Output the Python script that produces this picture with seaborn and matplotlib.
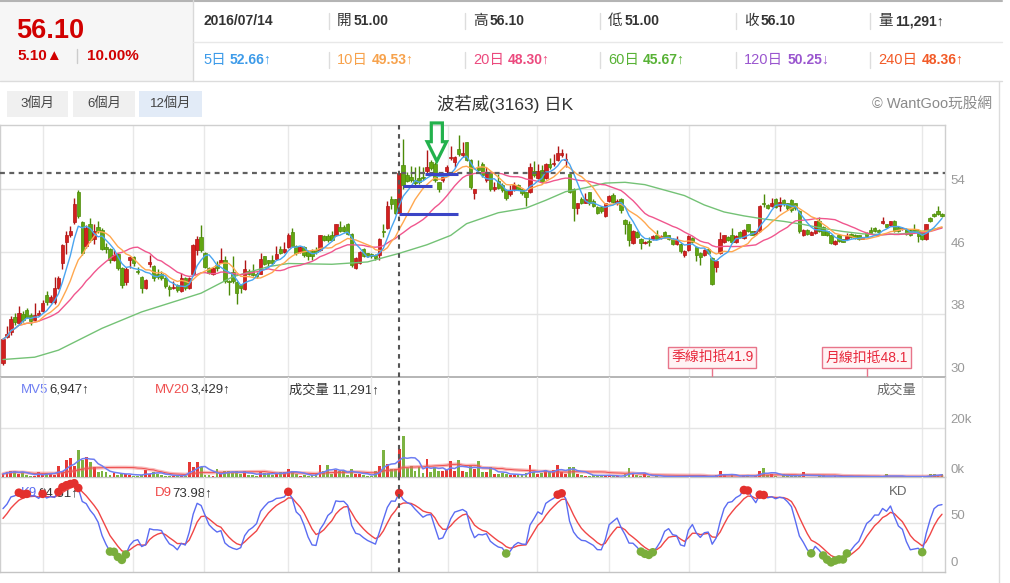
import numpy as np
import pandas as pd
import matplotlib
matplotlib.use('Agg')
import matplotlib.pyplot as plt
import seaborn as sns
from matplotlib.patches import Rectangle, Polygon
import matplotlib.transforms as mtrans

# ------------------------------------------------------------------ data
opens = [
    31.7, 35.1, 35.7, 37.6, 36.9, 38.0, 38.6, 37.9, 37.2, 37.9,
    38.4, 40.5, 39.6, 39.6, 41.4, 44.5, 47.3, 48.1, 49.8, 53.6,
    49.8, 46.8, 49.5, 47.7, 49.2, 48.8, 46.6, 46.3, 45.0, 45.7,
    43.9, 42.1, 44.9, 45.3, 43.6, 42.8, 41.3, 44.4, 44.2, 43.2,
    43.2, 42.7, 41.5, 41.3, 41.7, 41.0, 42.6, 41.3, 43.2, 46.2,
    47.9, 45.8, 43.9, 43.2, 44.3, 44.6, 45.0, 42.3, 43.4, 42.1,
    41.7, 41.2, 43.6, 43.6, 43.2, 43.2, 45.4, 44.9, 44.9, 45.1,
    46.4, 46.0, 46.6, 48.5, 46.8, 46.0, 46.6, 46.0, 46.1,
    46.2, 46.2, 48.0, 48.0, 48.2, 48.1, 49.2, 49.2, 49.5, 48.3,
    43.9, 44.5, 46.4, 45.8, 45.7, 45.6, 45.6, 48.6, 49.0, 52.7, 52.7, 51.0,
    57.1, 55.8, 55.6, 55.2, 55.4, 55.6, 56.3, 57.5, 57.3, 54.9,
    55.2, 56.3, 58.0, 57.5, 59.2, 58.4, 60.0,
    57.8, 53.5, 56.8, 57.3, 55.2, 56.2, 54.0, 55.1, 54.6, 53.9,
    53.4, 54.0, 54.5, 54.0, 53.6, 53.6, 56.3, 55.4, 56.5, 55.4,
    57.3, 57.2, 57.7, 58.4, 57.7, 55.9, 54.0, 51.6, 52.8, 52.3,
    53.6, 52.5, 51.8, 51.8, 50.6, 52.5, 53.3, 52.2, 52.8,
    50.1, 49.5, 47.1, 48.5, 47.7, 47.1, 47.4, 47.6, 48.2, 47.8,
    48.5, 48.1, 47.7, 47.0, 47.0, 45.6, 46.2, 47.8, 46.6, 45.9,
    45.6, 46.3, 45.2, 44.0, 45.8, 47.3, 47.9, 48.2, 47.2, 48.5,
    47.8, 49.5, 48.6, 48.3, 48.6, 52.2, 52.0, 51.9,
    52.7, 51.9, 52.6, 52.2, 52.6, 52.2, 51.2, 48.1, 48.8, 48.2,
    48.4, 49.9, 49.2, 48.6, 48.1, 47.0, 48.1, 47.6, 47.7, 48.3,
    48.2, 48.1, 47.7, 48.4, 48.8, 49.1, 48.8, 49.7, 49.5, 49.4,
    50.0, 49.2, 48.9, 48.9, 48.8, 48.9, 48.8, 48.6, 47.6, 50.3,
    50.8, 51.2, 50.9,
]
highs = [
    34.9, 36.5, 37.8, 38.2, 39.0, 38.4, 38.8, 38.1, 39.5, 38.6,
    39.8, 41.0, 40.5, 42.8, 42.9, 47.0, 48.7, 49.3, 52.9, 53.9,
    50.0, 49.4, 50.3, 49.5, 49.9, 49.0, 47.1, 46.5, 46.2, 45.8,
    44.0, 44.0, 45.4, 45.5, 44.0, 42.9, 42.5, 45.6, 44.3, 43.8,
    43.5, 42.8, 41.7, 42.2, 41.9, 43.3, 42.8, 42.8, 47.0, 48.0,
    49.4, 46.0, 44.1, 44.0, 44.8, 46.5, 45.5, 42.4, 45.4, 42.2,
    41.8, 44.9, 43.8, 44.4, 43.4, 45.8, 45.5, 45.0, 45.6, 46.7,
    46.8, 47.3, 48.4, 49.0, 46.9, 46.7, 46.8, 46.2, 46.3,
    46.6, 48.2, 48.1, 48.3, 48.6, 49.6, 50.0, 49.4, 49.7, 48.4,
    45.3, 46.1, 46.5, 45.9, 45.8, 45.7, 47.8, 49.6, 52.5, 53.2, 52.8, 56.1,
    60.4, 56.2, 57.0, 56.9, 57.0, 56.9, 59.0, 57.7, 57.5, 55.0,
    55.8, 57.1, 59.5, 58.3, 61.0, 60.0, 60.1,
    57.9, 54.1, 57.8, 57.5, 56.8, 56.3, 55.0, 56.0, 54.8, 54.0,
    54.5, 55.0, 54.7, 54.2, 53.7, 57.4, 57.6, 57.2, 57.1, 57.4,
    58.0, 58.5, 59.5, 59.2, 58.6, 56.0, 54.2, 52.3, 53.0, 53.5,
    53.7, 52.7, 51.9, 51.9, 52.3, 53.3, 53.5, 52.7, 52.9,
    50.2, 50.0, 48.8, 48.6, 47.8, 47.4, 47.9, 48.1, 48.8, 48.1,
    48.6, 48.2, 47.8, 48.0, 47.1, 46.2, 48.1, 47.9, 46.7, 46.0,
    46.3, 46.4, 45.3, 44.9, 48.5, 48.2, 48.0, 49.0, 48.1, 48.6,
    48.9, 49.6, 48.7, 48.7, 52.0, 53.4, 52.1, 52.9,
    52.9, 53.0, 52.7, 52.3, 52.7, 52.3, 51.3, 48.9, 48.9, 48.6,
    50.0, 50.5, 49.3, 48.7, 48.2, 47.5, 48.2, 47.7, 48.4, 48.4,
    48.3, 48.2, 47.9, 48.5, 49.2, 49.2, 48.9, 50.5, 49.6, 50.0,
    50.1, 49.3, 49.2, 49.0, 48.9, 49.5, 48.9, 48.7, 49.6, 50.4,
    51.0, 51.9, 51.0,
]
lows = [
    31.5, 35.0, 35.3, 36.6, 36.8, 37.0, 37.5, 36.6, 37.1, 37.8,
    38.3, 39.2, 39.4, 39.3, 41.2, 43.8, 45.7, 47.9, 49.5, 50.3,
    45.6, 46.5, 47.2, 47.0, 48.4, 46.2, 45.8, 44.5, 44.8, 43.7,
    41.4, 41.8, 43.9, 44.2, 43.1, 40.7, 41.2, 44.0, 42.3, 42.5,
    42.4, 41.4, 40.4, 41.2, 40.9, 40.9, 41.1, 41.2, 43.1, 45.6,
    46.0, 43.9, 43.1, 43.0, 43.6, 44.5, 42.0, 40.5, 42.0, 39.3,
    40.7, 41.1, 43.0, 42.9, 42.7, 43.1, 44.3, 44.2, 44.3, 45.0,
    45.7, 45.9, 46.5, 46.7, 45.6, 45.9, 45.3, 45.0, 45.0,
    45.7, 46.1, 47.4, 47.3, 47.4, 48.0, 48.5, 48.5, 48.2, 44.0,
    43.8, 44.4, 45.3, 45.3, 45.2, 45.0, 45.0, 47.9, 48.9, 51.5, 50.8, 51.0,
    54.0, 54.9, 55.0, 54.6, 54.7, 55.2, 56.1, 56.5, 55.0, 53.6,
    55.0, 56.1, 57.8, 56.9, 58.3, 58.2, 57.6,
    54.0, 52.8, 56.3, 55.6, 55.0, 53.8, 53.8, 54.0, 53.7, 52.6,
    53.2, 53.8, 53.9, 53.3, 51.9, 53.5, 55.6, 55.3, 54.8, 55.3,
    56.6, 57.0, 57.6, 58.2, 56.9, 53.5, 49.9, 50.9, 52.1, 52.2,
    52.0, 51.7, 50.8, 51.0, 50.5, 52.4, 52.2, 52.0, 51.0,
    48.3, 46.8, 47.0, 47.8, 46.4, 47.0, 46.8, 47.5, 47.6, 47.7,
    47.8, 47.5, 46.9, 46.9, 45.9, 45.3, 46.1, 47.1, 44.8, 44.3,
    45.5, 45.7, 41.8, 43.4, 45.7, 47.1, 47.4, 47.1, 47.1, 47.8,
    47.7, 48.5, 48.1, 48.2, 48.5, 51.8, 51.5, 51.8,
    51.6, 51.2, 51.9, 51.4, 51.1, 51.4, 48.4, 48.0, 48.2, 48.1,
    48.3, 48.5, 48.1, 48.0, 47.0, 46.9, 47.3, 47.2, 47.6, 47.8,
    47.7, 47.5, 47.6, 47.9, 48.3, 48.5, 48.4, 49.6, 49.1, 49.3,
    48.5, 48.5, 48.8, 48.2, 48.0, 48.5, 47.3, 47.5, 47.5, 49.8,
    50.5, 50.7, 50.5,
]
closes = [
    34.8, 35.5, 37.4, 37.0, 38.2, 37.3, 37.7, 37.1, 37.9, 38.2,
    39.4, 39.6, 40.2, 41.3, 42.6, 46.9, 48.1, 48.7, 52.1, 50.6,
    45.8, 49.0, 47.5, 48.7, 48.6, 46.3, 46.3, 44.9, 45.6, 43.9,
    41.8, 43.8, 45.3, 44.5, 43.4, 41.3, 42.4, 44.7, 42.7, 42.8,
    42.7, 41.6, 41.2, 41.5, 41.1, 42.6, 41.3, 42.7, 46.9, 47.6,
    46.2, 44.1, 43.3, 43.9, 43.9, 44.9, 42.2, 42.1, 42.2, 40.7,
    41.3, 43.8, 43.2, 43.0, 42.9, 45.1, 44.4, 44.6, 44.6, 45.7,
    45.9, 46.4, 48.1, 46.8, 45.8, 46.6, 45.6, 45.4, 45.4,
    46.0, 48.1, 47.5, 47.5, 47.5, 49.5, 48.6, 48.7, 48.3, 44.3,
    45.2, 46.0, 45.5, 45.4, 45.4, 45.2, 47.7, 48.5, 51.9, 52.1, 51.0, 56.1,
    54.5, 55.1, 55.2, 54.8, 54.9, 55.4, 56.9, 56.7, 55.2, 54.0,
    55.6, 56.9, 58.2, 58.1, 58.5, 58.6, 57.8,
    54.3, 54.0, 56.5, 55.8, 56.2, 54.0, 54.3, 54.2, 53.9, 52.9,
    53.9, 54.5, 54.1, 53.5, 53.0, 56.8, 55.8, 56.3, 55.0, 57.3,
    56.8, 57.3, 58.6, 58.6, 57.9, 53.7, 51.6, 52.2, 52.3, 52.8,
    52.2, 51.9, 51.0, 51.2, 52.2, 53.1, 52.4, 52.5, 51.3,
    49.5, 47.5, 48.7, 47.9, 47.1, 47.3, 47.3, 48.0, 47.7, 48.0,
    47.9, 47.6, 47.0, 47.5, 46.1, 46.1, 48.0, 47.3, 45.6, 45.3,
    46.2, 45.9, 41.9, 44.8, 47.6, 48.1, 47.5, 47.2, 48.0, 47.9,
    48.8, 48.6, 48.2, 48.6, 51.9, 52.1, 51.6, 52.3,
    51.8, 52.4, 52.1, 51.6, 51.3, 51.6, 48.6, 48.8, 48.3, 48.5,
    49.9, 48.6, 48.2, 48.1, 47.1, 47.4, 47.4, 47.3, 48.0, 47.9,
    47.8, 47.6, 47.8, 48.0, 48.4, 48.6, 48.5, 49.9, 49.2, 49.9,
    48.6, 48.6, 49.1, 48.3, 48.1, 48.6, 48.0, 47.6, 49.5, 49.9,
    50.6, 50.8, 50.6,
]
volumes_k = [
    1.35, 2.16, 2.57, 2.57, 1.35, 2.16, 0.81, 0.54, 0.54, 2.16,
    1.08, 1.76, 1.76, 1.08, 4.6, 2.43, 7.0, 7.8, 4.6, 11.1,
    6.8, 8.1, 6.2, 4.05, 2.3, 2.57, 2.3, 1.08, 1.9, 1.08,
    1.35, 1.35, 0.95, 0.68, 0.68, 0.95, 3.0, 1.35, 2.16, 1.35,
    1.08, 0.54, 0.54, 0.68, 0.81, 0.81, 0.54, 6.2, 4.2, 6.2,
    4.05, 1.08, 0.95, 0.4, 3.2, 1.35, 2.43, 2.43, 1.6, 2.43,
    1.35, 2.57, 0.95, 0.95, 0.4, 2.16, 1.6, 1.9, 1.08, 1.35,
    2.0, 2.16, 3.2, 2.43, 1.35, 0.68, 0.81, 0.68, 0.81, 1.35,
    5.0, 2.43, 5.0, 1.35, 3.0, 2.43, 2.43, 1.08, 3.2, 1.35,
    1.35, 0.81, 0.54, 0.54, 2.43, 4.6, 11.1, 5.4, 3.2, 3.2,
    11.291,
    16.8, 3.8, 4.5, 2.7, 4.3, 1.6, 7.4, 2.16, 4.05, 2.7,
    2.7, 3.0, 6.6, 2.7, 7.0, 2.7, 2.16, 4.6,
    3.5, 6.6, 2.16, 2.16, 4.05, 1.35, 1.35, 1.76, 1.35, 0.95,
    0.95, 0.95, 0.95, 1.6, 5.0, 2.3, 1.35, 1.76, 3.0, 2.3,
    2.84, 5.0, 2.3, 1.35, 4.2, 4.2, 1.35, 0.95, 0.54, 0.54,
    0.95, 0.95, 0.95, 0.54, 0.54, 0.54, 0.54, 0.27, 1.35, 3.8,
    1.9, 0.95, 0.54, 1.5, 0.54, 0.27, 0.54, 0.3, 0.3, 0.3,
    0.3, 0.3, 0.54, 0.3, 0.54, 0.3, 0.54, 0.3, 0.3, 0.3,
    0.54, 0.95, 2.57, 0.95, 0.3, 0.95, 0.3, 0.3, 0.95, 0.95,
    0.3, 0.54, 2.57, 3.8, 0.95, 1.35, 0.4, 0.3, 1.35, 0.54,
    0.54, 0.54, 0.54, 2.16, 0.3, 0.3, 0.3, 0.54, 0.95, 0.3,
    0.3, 0.54, 0.3, 0.3, 0.3, 0.54, 0.3, 0.3, 0.3, 0.3,
    0.3, 0.3, 0.3, 0.3, 1.35, 0.3, 0.3, 0.3, 0.3, 0.3,
    0.3, 0.3, 0.3, 0.3, 0.3, 1.35, 1.35, 0.8, 1.35,
]
# 60-day MA (candle index, value)
ma60_idx = [0, 8, 14, 25, 35, 50, 58, 67, 72, 83, 92, 100, 107, 113, 117, 125,
            132, 137, 142, 147, 152, 157, 162, 167, 172, 177, 182, 187, 192, 197,
            202, 207, 212, 217, 222, 227, 233, 237]
ma60_vals = [32.2, 32.5, 33.4, 36.2, 38.3, 40.7, 42.8, 44.1, 44.5, 44.4, 44.7, 45.8,
             46.9, 48.1, 49.6, 51.0, 51.6, 52.6, 53.7, 54.2, 54.8, 54.9, 54.6, 53.9,
             53.2, 52.0, 51.1, 50.6, 50.2, 49.9, 49.5, 49.0, 48.6, 48.3, 48.2, 48.3,
             48.7, 49.1]
month_grid_idx = [10.2, 32.7, 50.7, 72.0, 92.8, 112.4, 134.9, 153.0, 173.2, 194.9, 232.0]
hover_idx = 100
hover_price = 56.10
deduct_idx = [179, 218]
deduct_labels = ['季線扣抵41.9', '月線扣抵48.1']
price_ticks = [54, 46, 38, 30]
vol_ticks = [20, 0]
kd_ticks = [50, 0]
hdr_date = '2016/07/14'
hdr_fields = ['開', '高', '低', '收', '量']
hdr_values = ['51.00', '56.10', '51.00', '56.10', '11,291↑']
ma_names = ['5日', '10日', '20日', '60日', '120日', '240日']
ma_values = ['52.66↑', '49.53↑', '48.30↑', '45.67↑', '50.25↓', '48.36↑']
ma_colors = ['#3d9be9', '#f7a24c', '#ec4a7e', '#58b236', '#9a56cf', '#f25a27']
buttons = ['3個月', '6個月', '12個月']

# ------------------------------------------------------------------ style
sns.set_theme(style='white')
plt.rcParams['font.family'] = ['Liberation Sans', 'Noto Sans CJK TC', 'DejaVu Sans']
plt.rcParams['axes.unicode_minus'] = False

W, H = 1010, 583
fig = plt.figure(figsize=(W / 100, H / 100), dpi=100)
fig.patch.set_facecolor('white')


def rect(x0, y0, x1, y1):
    return [x0 / W, 1 - y1 / H, (x1 - x0) / W, (y1 - y0) / H]


PX0, PX1 = 0, 945
P_TOP, P_BOT, V_BOT, K_BOT = 125, 376.7, 477.3, 572

hdr = fig.add_axes([0, 0, 1, 1], zorder=0)
hdr.set_xlim(0, W)
hdr.set_ylim(H, 0)
hdr.axis('off')

axp = fig.add_axes(rect(PX0, P_TOP, PX1, P_BOT), zorder=2)
axv = fig.add_axes(rect(PX0, P_BOT, PX1, V_BOT), zorder=2)
axk = fig.add_axes(rect(PX0, V_BOT, PX1, K_BOT), zorder=2)

n = min(len(opens), len(highs), len(lows), len(closes), len(volumes_k))
o = np.array(opens[:n]); h = np.array(highs[:n]); l = np.array(lows[:n]); c = np.array(closes[:n])
v = np.array(volumes_k[:n])
idx = np.arange(n)
sp = (942 - 3) / (n - 1)
XL = (-3 / sp, n - 1 + 3 / sp)

for ax in (axp, axv, axk):
    ax.set_facecolor('none')
    ax.set_xlim(*XL)
    ax.set_xticks([]); ax.set_yticks([])
    for s in ax.spines.values():
        s.set_color('#cfcfcf'); s.set_linewidth(1)
    for gx in month_grid_idx:
        ax.axvline(gx, color='#e8e8e8', lw=1, zorder=0)
    ax.axvline(hover_idx, color='#555555', lw=1.5, ls=(0, (2.2, 2.2)), zorder=7)
axv.spines['top'].set_visible(False)
axk.spines['top'].set_visible(False)
axp.spines['bottom'].set_color('#b0b0b0'); axp.spines['bottom'].set_linewidth(1.3)
axv.spines['bottom'].set_color('#c4c4c4')
axk.spines['bottom'].set_color('#c4c4c4')

# ------------------------------------------------------------------ price panel
axp.set_ylim(30, 62.24)
for t in price_ticks[:-1]:
    axp.axhline(t, color='#e4e4e4', lw=1, zorder=0)
up = c >= o
fill = np.where(up, '#d3201f', '#62a612')
edge = np.where(up, '#b01515', '#4c8a08')
axp.vlines(idx, l, h, colors=edge, linewidth=1.0, zorder=3)
axp.bar(idx, np.maximum(np.abs(c - o), 0.14), bottom=np.minimum(o, c), width=0.86,
        color=fill, edgecolor=edge, linewidth=0.5, zorder=4)

cs = pd.Series(c)
ma5 = cs.rolling(5, min_periods=1).mean()
ma10 = cs.rolling(10, min_periods=1).mean()
ma20 = cs.rolling(20, min_periods=1).mean()
sns.lineplot(x=ma60_idx, y=ma60_vals, ax=axp, color='#74c276', linewidth=1.0, zorder=5)
sns.lineplot(x=idx, y=ma20, ax=axp, color='#f0568e', linewidth=1.0, zorder=5)
sns.lineplot(x=idx, y=ma10, ax=axp, color='#ffa84f', linewidth=1.0, zorder=5)
sns.lineplot(x=idx, y=ma5, ax=axp, color='#4aa5f0', linewidth=1.0, zorder=5)
axp.axhline(hover_price, color='#606060', lw=1.6, ls=(0, (2.2, 2.0)), zorder=6)

# hand-drawn marks (blue bars + green outline arrow)
blue_bars = [(101.0, 108.2, 54.4), (100.0, 114.8, 50.9), (106.5, 114.9, 56.0)]
for x0, x1, yy in blue_bars:
    axp.plot([x0, x1], [yy, yy], color='#3b45c6', lw=2.2, solid_capstyle='butt', zorder=8)
ax_tip, ay_tip, ay_base, ay_top, hw_head, hw_shaft = 109.5, 57.6, 60.1, 62.5, 2.45, 1.4
arrow = Polygon([(ax_tip, ay_tip), (ax_tip + hw_head, ay_base), (ax_tip + hw_shaft, ay_base),
                 (ax_tip + hw_shaft, ay_top), (ax_tip - hw_shaft, ay_top),
                 (ax_tip - hw_shaft, ay_base), (ax_tip - hw_head, ay_base)],
                closed=True, fill=False, edgecolor='#22b14c', lw=2.3, joinstyle='miter',
                clip_on=False, zorder=9)
axp.add_patch(arrow)

btr = mtrans.blended_transform_factory(axp.transData, axp.transAxes)
for di, lab in zip(deduct_idx, deduct_labels):
    axp.plot([di, di], [0, 0.034], transform=btr, color='#e8758a', lw=1, zorder=6)
    axp.text(di, 0.0763, lab, transform=btr, ha='center', va='center', fontsize=10,
             color='#e8283c', zorder=7,
             bbox=dict(boxstyle='square,pad=0.22', fc='#fff3f4', ec='#e8758a', lw=1))

ytr = axp.get_yaxis_transform()
for t in price_ticks:
    axp.text(1.0055, t + 0.25, str(t), transform=ytr, ha='left', va='bottom', fontsize=9.5,
             color='#9a9a9a')

# ------------------------------------------------------------------ volume panel
axv.set_ylim(0, 40.56)
axv.axhline(20, color='#e4e4e4', lw=1, zorder=0)
vcol = np.where(c > o, '#e53935', np.where(c < o, '#7cb342', '#cfcfcf'))
axv.bar(idx, v, width=0.72, color=vcol, linewidth=0, zorder=3)
vs = pd.Series(v)
mv5 = vs.rolling(5, min_periods=1).mean()
mv20 = vs.rolling(20, min_periods=1).mean()
sns.lineplot(x=idx, y=mv20, ax=axv, color='#f26a6a', linewidth=2.6, alpha=0.45, zorder=4)
sns.lineplot(x=idx, y=mv20, ax=axv, color='#ef5050', linewidth=0.7, zorder=4)
sns.lineplot(x=idx, y=mv5, ax=axv, color='#6f7ff2', linewidth=1.1, zorder=5)
ytr = axv.get_yaxis_transform()
for t in vol_ticks:
    axv.text(1.0055, t + 0.6, f'{t}k', transform=ytr, ha='left', va='bottom', fontsize=9.5,
             color='#9a9a9a')

# ------------------------------------------------------------------ KD panel
lo9 = pd.Series(l).rolling(9, min_periods=1).min().values
hi9 = pd.Series(h).rolling(9, min_periods=1).max().values
K = np.zeros(n); D = np.zeros(n)
kp, dp = 50.0, 50.0
for i in range(n):
    rng = hi9[i] - lo9[i]
    rsv = 50.0 if rng == 0 else (c[i] - lo9[i]) / rng * 100
    kp = kp * 2 / 3 + rsv / 3
    dp = dp * 2 / 3 + kp / 3
    K[i], D[i] = kp, dp
axk.set_ylim(-2.14, 99.25)
axk.axhline(50, color='#e4e4e4', lw=1, zorder=0)
sns.lineplot(x=idx, y=D, ax=axk, color='#f04646', linewidth=1.0, zorder=4)
sns.lineplot(x=idx, y=K, ax=axk, color='#5b6cf2', linewidth=1.0, zorder=4)
hiK = K >= 80
loK = K <= 20
sns.scatterplot(x=idx[hiK], y=K[hiK], ax=axk, color='#e3302e', s=38, edgecolor='none',
                zorder=6, legend=False)
sns.scatterplot(x=idx[loK], y=K[loK], ax=axk, color='#7aae3c', s=38, edgecolor='none',
                zorder=6, legend=False)
ytr = axk.get_yaxis_transform()
for t in kd_ticks:
    axk.text(1.0055, t + 1.0, str(t), transform=ytr, ha='left', va='bottom', fontsize=9.5,
             color='#9a9a9a')

for ax in (axp, axv, axk):
    ax.set_xlabel(''); ax.set_ylabel('')
    ax.set_xlim(*XL)


# ------------------------------------------------------------------ text helpers
def chain(prev, s, gap=1.5, **kw):
    return hdr.annotate(s, xy=(1, 0.5), xycoords=prev, xytext=(gap, 0),
                        textcoords='offset points', ha='left', va='center', **kw)


def pline(x0, y0, x1, y1, **kw):
    hdr.plot([x0, x1], [y0, y1], **kw)


# header block
hdr.add_patch(Rectangle((0, 0), 192.6, 81, facecolor='#f6f6f6', edgecolor='none', zorder=0))
pline(0, 0.8, 1002, 0.8, color='#b4b4b4', lw=1.5)
pline(192.6, 0, 192.6, 81, color='#d9d9d9', lw=1)
pline(192.6, 41.7, 1002, 41.7, color='#e8e8e8', lw=1)
pline(0, 81, 1002, 81, color='#dcdcdc', lw=1)
pline(999, 81, 999, H, color='#dcdcdc', lw=1)

hdr.text(16, 31, '56.10', fontsize=19.5, fontweight='bold', color='#d10000', ha='left', va='center')
hdr.text(17, 56, '5.10▲', fontsize=11, fontweight='bold', color='#d10000', ha='left', va='center')
pline(77, 49, 77, 63, color='#cccccc', lw=1)
hdr.text(86.5, 56, '10.00%', fontsize=11, fontweight='bold', color='#d10000', ha='left', va='center')

col_x = [203, 337, 473, 608, 744, 878]
hdr.text(col_x[0], 21, hdr_date, fontsize=10, fontweight='bold', color='#333333',
         ha='left', va='center')
for k, (fld, val) in enumerate(zip(hdr_fields, hdr_values)):
    xx = col_x[k + 1]
    pline(xx - 8.5, 13, xx - 8.5, 29, color='#dddddd', lw=1)
    t = hdr.text(xx, 21, fld, fontsize=10.5, color='#333333', ha='left', va='center')
    chain(t, val, fontsize=10, fontweight='bold', color='#333333')
for k, (nm, val, col) in enumerate(zip(ma_names, ma_values, ma_colors)):
    xx = col_x[k]
    if k > 0:
        pline(xx - 8.5, 52, xx - 8.5, 68, color='#dddddd', lw=1)
    t = hdr.text(xx, 60, nm, fontsize=10.5, color=col, ha='left', va='center')
    chain(t, val, gap=3, fontsize=10, fontweight='bold', color=col)

# button row / title
btn_boxes = [(6.5, 68), (73, 135), (139, 202)]
for (bx0, bx1), lab, sel in zip(btn_boxes, buttons, [False, False, True]):
    hdr.add_patch(Rectangle((bx0, 91), bx1 - bx0, 26, facecolor='#e2ebf7' if sel else '#f0f0f0',
                            edgecolor='none', zorder=0))
    hdr.text((bx0 + bx1) / 2, 104, lab, fontsize=9.5, color='#444444', ha='center', va='center')
hdr.text(505, 104, '波若威(3163) 日K', fontsize=12.5, color='#333333', ha='center', va='center')
hdr.text(992, 104, '© WantGoo玩股網', fontsize=10.5, color='#8a8a8a', ha='right', va='center')

# panel captions
t = hdr.text(21, 390, 'MV5', fontsize=9.5, color='#6f7ff2', ha='left', va='center')
chain(t, '6,947↑', gap=0.5, fontsize=9.5, color='#333333')
t = hdr.text(155, 390, 'MV20', fontsize=9.5, color='#ef5050', ha='left', va='center')
chain(t, '3,429↑', gap=0.5, fontsize=9.5, color='#333333')
hdr.text(289, 390, '成交量 11,291↑', fontsize=9.5, color='#333333', ha='left', va='center')
hdr.text(916, 391, '成交量', fontsize=9.5, color='#666666', ha='right', va='center')
t = hdr.text(21, 493, 'K9', fontsize=9.5, color='#5b6cf2', ha='left', va='center')
chain(t, '84.51↑', gap=0.5, fontsize=9.5, color='#333333')
t = hdr.text(155, 493, 'D9', fontsize=9.5, color='#f04646', ha='left', va='center')
chain(t, '73.98↑', gap=0.5, fontsize=9.5, color='#333333')
hdr.text(907, 492, 'KD', fontsize=9.5, color='#666666', ha='right', va='center')

fig.savefig('out.png', dpi=100, facecolor='white')
